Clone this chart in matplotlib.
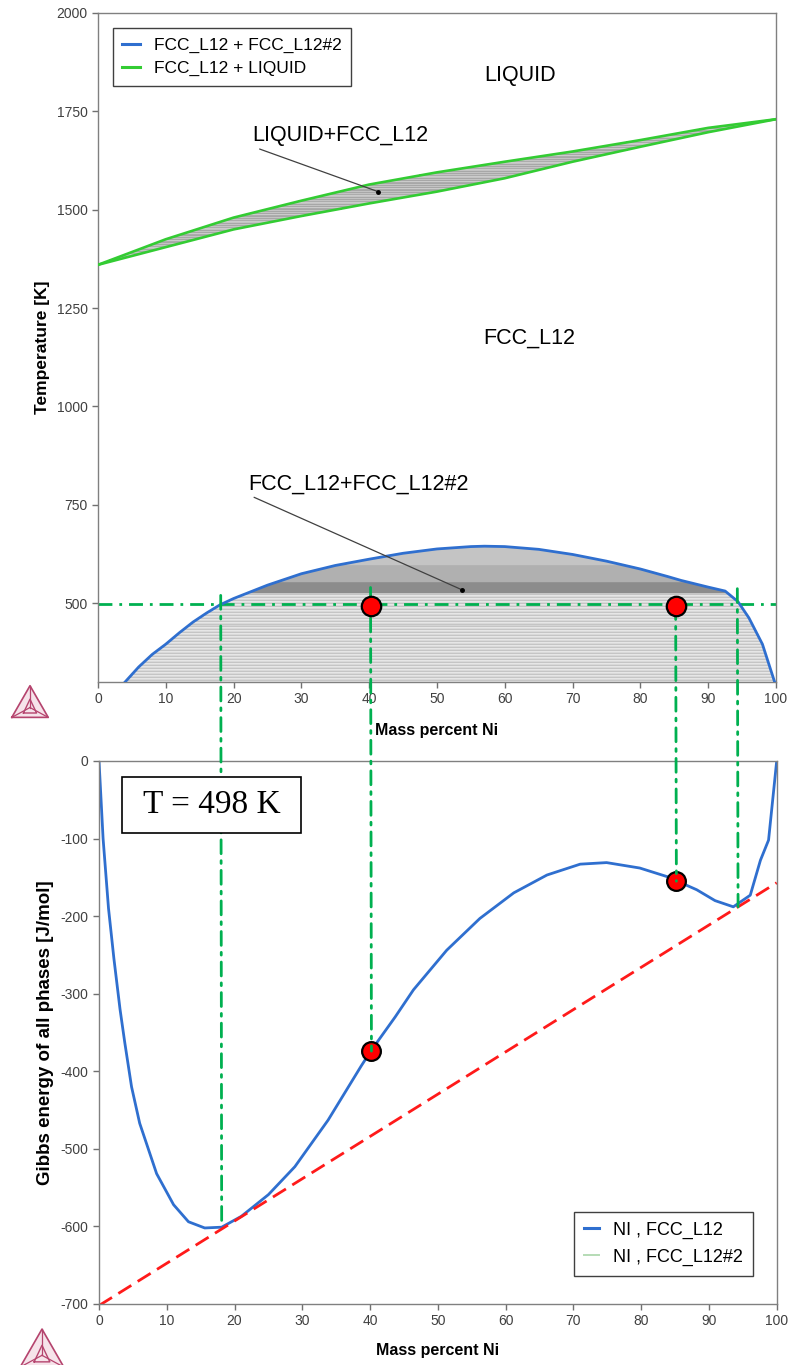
"""Cu-Ni phase diagram (top) and Gibbs energy curve at T = 498 K (bottom)."""

import matplotlib
matplotlib.use("Agg")
import matplotlib.pyplot as plt
import numpy as np
from matplotlib.lines import Line2D
from matplotlib.patches import ConnectionPatch, Rectangle

plt.rcParams["font.family"] = ["Liberation Sans", "DejaVu Sans"]
plt.rcParams["axes.unicode_minus"] = False

# --- top panel: phase diagram ---
LIQ_X = [0, 10, 20, 30, 40, 50, 60, 70, 80, 90, 100]
LIQUIDUS_T = [1360, 1425, 1480, 1523, 1564, 1595, 1622, 1648, 1677, 1708, 1730]
SOLIDUS_T = [1360, 1405, 1450, 1484, 1516, 1546, 1580, 1622, 1660, 1697, 1730]

GAP_X = [4.0, 6, 8, 10, 12, 14, 16, 18, 20, 25, 30, 35, 40, 45, 50, 55, 57, 60,
         65, 70, 75, 80, 84, 86, 90, 92.5, 94.4, 96, 98, 99.8]
GAP_T = [300, 338, 370, 396, 425, 452, 475, 496, 512, 546, 575, 596, 612, 627,
         638, 644, 645, 644, 637, 624, 607, 587, 568, 558, 541, 531, 504, 463, 396, 300]

T_SECTION = 498
TOP_DOT_X = [40.3, 85.3]
TOP_DOT_T = [494, 494]

# --- bottom panel: Gibbs energy ---
G_X = [0, 0.6, 1.4, 2.2, 3.1, 3.8, 4.8, 6.0, 8.5, 11.0, 13.2, 15.6, 18.1, 21.0,
       25.0, 28.9, 33.8, 38.7, 40.1, 43.7, 46.4, 51.3, 56.2, 61.2, 66.1, 71.0,
       74.9, 79.8, 83.8, 88.2, 90.9, 93.6, 96.1, 97.6, 98.8, 100]
G_VAL = [0, -100, -190, -255, -320, -363, -420, -467, -532, -572, -594, -602,
         -601, -587, -559, -523, -463, -393, -374, -330, -295, -244, -203, -170,
         -147, -133, -131, -138, -149, -166, -180, -188, -173, -128, -102, 0]
TAN_X = [0, 100]
TAN_G = [-702, -157]
BOT_DOT_X = [40.1, 85.2]
BOT_DOT_G = [-374, -155]

# vertical guides linking both panels
VLINE_X = [18.1, 40.2, 85.2, 94.3]
VLINE_TOP_T = [520, 540, 494, 537]
VLINE_BOT_G = [-600, -374, -155, -188]

BLUE = "#2f6fcf"
GREEN = "#33cc33"
GUIDE = "#00b050"
DASHDOT = (0, (5, 2.5, 1, 2.5))


def style_axes(ax):
	for s in ax.spines.values():
		s.set_color("#808080")
		s.set_linewidth(1.0)
	ax.tick_params(direction="out", length=4, width=1, color="#707070",
				   labelcolor="#404040", labelsize=10)


def draw_logo(fig, rect):
	lax = fig.add_axes(rect)
	lax.set_xlim(-0.05, 1.05)
	lax.set_ylim(-0.05, 0.95)
	lax.set_aspect("equal")
	lax.axis("off")
	c = "#b5446e"
	outer = np.array([[0, 0], [1, 0], [0.5, 0.87], [0, 0]])
	inner = np.array([[0.32, 0.12], [0.68, 0.12], [0.5, 0.5], [0.32, 0.12]])
	lax.fill(outer[:, 0], outer[:, 1], color="#f6e3ea", zorder=0)
	lax.plot(outer[:, 0], outer[:, 1], color=c, lw=1.2)
	lax.plot(inner[:, 0], inner[:, 1], color=c, lw=1.0)
	ctr = (0.5, 0.27)
	for (x0, y0) in outer[:3]:
		lax.plot([x0, ctr[0]], [y0, ctr[1]], color=c, lw=0.9)


fig = plt.figure(figsize=(7.89, 13.65), dpi=100)
ax1 = fig.add_axes([0.1242, 0.5004, 0.8593, 0.4901])
ax2 = fig.add_axes([0.1255, 0.0447, 0.8589, 0.3978])

# ---------------- top panel ----------------
ax1.set_xlim(0, 100)
ax1.set_ylim(300, 2000)

# tie lines in the L + FCC region
for i, t in enumerate(np.arange(1362, 1728, 3)):
	xl = np.interp(t, LIQUIDUS_T, LIQ_X)
	xr = np.interp(t, SOLIDUS_T, LIQ_X)
	ax1.hlines(t, xl, xr, color="#a4a4a4" if i % 2 else "#c6c6c6", lw=1.3, zorder=1)

# tie lines in the miscibility gap
ipk = int(np.argmax(GAP_T))
left_x, left_t = GAP_X[:ipk + 1], GAP_T[:ipk + 1]
right_x, right_t = GAP_X[ipk:][::-1], GAP_T[ipk:][::-1]
ax1.fill(GAP_X, GAP_T, color="#dadada", lw=0, zorder=0.5)
for i, t in enumerate(np.arange(301, GAP_T[ipk], 2.5)):
	xl = np.interp(t, left_t, left_x)
	xr = np.interp(t, right_t, right_x)
	if t >= 600:
		col = "#c4c4c4"
	elif t >= 555:
		col = "#b0b0b0"
	elif t >= 528:
		col = "#8c8c8c"
	else:
		col = ["#d4d4d4", "#efefef", "#c2c2c2"][i % 3]
	ax1.hlines(t, xl, xr, color=col, lw=1.0, zorder=1)

ax1.plot(LIQ_X, LIQUIDUS_T, color=GREEN, lw=1.9, zorder=3)
ax1.plot(LIQ_X, SOLIDUS_T, color=GREEN, lw=1.9, zorder=3)
ax1.plot(GAP_X, GAP_T, color=BLUE, lw=2.0, zorder=3)
ax1.axhline(T_SECTION, color=GUIDE, lw=2.0, ls=DASHDOT, zorder=2)

ax1.text(62.2, 1842, "LIQUID", fontsize=15.5, ha="center", va="center")
ax1.text(63.6, 1174, "FCC_L12", fontsize=15.5, ha="center", va="center")
arrow = dict(arrowstyle="-", color="#404040", lw=0.9, shrinkA=0, shrinkB=0, relpos=(0, 0))
ax1.annotate("LIQUID+FCC_L12", xy=(41.3, 1546), xytext=(22.7, 1688), fontsize=15.5,
			 ha="left", va="center", arrowprops=arrow)
ax1.annotate("FCC_L12+FCC_L12#2", xy=(53.7, 534), xytext=(22.1, 803), fontsize=15.5,
			 ha="left", va="center", arrowprops=arrow)
ax1.plot([41.3, 53.7], [1546, 534], "o", ms=2.5, color="black", zorder=4)

ax1.set_xticks(np.arange(0, 101, 10))
ax1.set_yticks([500, 750, 1000, 1250, 1500, 1750, 2000])
ax1.set_xlabel("Mass percent Ni", fontsize=11.5, fontweight="bold")
ax1.set_ylabel("Temperature [K]", fontsize=12.5, fontweight="bold")
ax1.xaxis.set_label_coords(0.5, -0.061)
ax1.yaxis.set_label_coords(-0.071, 0.5)
style_axes(ax1)

leg1 = ax1.legend(
	handles=[Line2D([], [], color=BLUE, lw=2.2), Line2D([], [], color=GREEN, lw=2.2)],
	labels=["FCC_L12 + FCC_L12#2", "FCC_L12 + LIQUID"],
	loc="upper left", bbox_to_anchor=(0.022, 0.977), borderaxespad=0,
	fontsize=12.5, handlelength=1.0, handletextpad=0.8, labelspacing=0.45,
	borderpad=0.55, fancybox=False, framealpha=1, edgecolor="#404040",
)
leg1.get_frame().set_linewidth(1.0)

# ---------------- bottom panel ----------------
ax2.set_xlim(0, 100)
ax2.set_ylim(-700, 0)
ax2.plot(G_X, G_VAL, color=BLUE, lw=2.0, zorder=2)
ax2.plot(TAN_X, TAN_G, color="#ff1a1a", lw=2.0, ls=(0, (5.5, 2.7)), zorder=2.5)

ax2.plot(BOT_DOT_X, BOT_DOT_G, "o", ms=13.5, mfc="#ff0000", mec="black", mew=1.6, zorder=3)

for x, t, g in zip(VLINE_X, VLINE_TOP_T, VLINE_BOT_G):
	cp = ConnectionPatch(xyA=(x, t), coordsA=ax1.transData, xyB=(x, g), coordsB=ax2.transData,
						 color=GUIDE, lw=2.0, ls=DASHDOT, zorder=4, clip_on=False,
						 annotation_clip=False)
	ax2.add_artist(cp)

# red dots of the upper panel, drawn above the guide lines
ax2.plot(TOP_DOT_X, TOP_DOT_T, "o", ms=14, mfc="#ff0000", mec="black", mew=1.6,
		 transform=ax1.transData, clip_on=False, zorder=5)

ax2.add_patch(Rectangle((0.034, 0.867), 0.264, 0.104, transform=ax2.transAxes,
						facecolor="white", edgecolor="black", lw=1.2, zorder=6))
ax2.text(0.166, 0.919, "T = 498 K", transform=ax2.transAxes, fontsize=24,
		 family=["Liberation Serif", "DejaVu Serif"], ha="center", va="center", zorder=7)

ax2.set_xticks(np.arange(0, 101, 10))
ax2.set_yticks(np.arange(-700, 1, 100))
ax2.set_xlabel("Mass percent Ni", fontsize=11.5, fontweight="bold")
ax2.set_ylabel("Gibbs energy of all phases [J/mol]", fontsize=13.5, fontweight="bold")
ax2.xaxis.set_label_coords(0.5, -0.072)
ax2.yaxis.set_label_coords(-0.066, 0.5)
style_axes(ax2)

leg2 = ax2.legend(
	handles=[Line2D([], [], color=BLUE, lw=2.2), Line2D([], [], color="#b5dcb5", lw=1.4)],
	labels=["NI , FCC_L12", "NI , FCC_L12#2"],
	loc="lower right", bbox_to_anchor=(0.965, 0.052), borderaxespad=0,
	fontsize=13, handlelength=0.8, handletextpad=0.8, labelspacing=0.55,
	borderpad=0.55, fancybox=False, framealpha=1, edgecolor="#404040",
)
leg2.get_frame().set_linewidth(1.0)
leg2.set_zorder(8)

draw_logo(fig, [10 / 789, 1 - 722 / 1365, 40 / 789, 42 / 1365])
draw_logo(fig, [18 / 789, -0.004, 48 / 789, 46 / 1365])

fig.savefig("out.png", dpi=100)
